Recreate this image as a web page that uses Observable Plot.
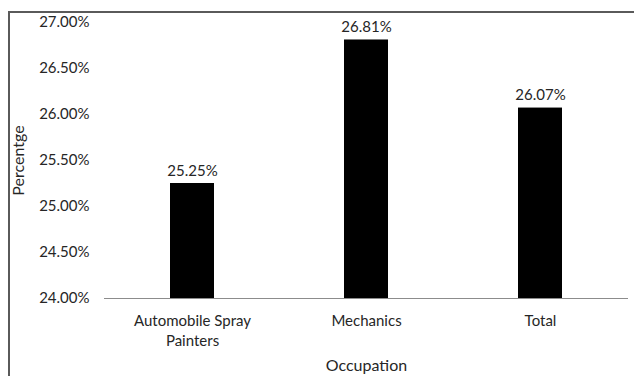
<!DOCTYPE html>
<html>
<head>
<meta charset="utf-8">
<script src="https://cdn.jsdelivr.net/npm/d3@7"></script>
<script src="https://cdn.jsdelivr.net/npm/@observablehq/plot@0.6"></script>
<style>
  html, body { margin: 0; padding: 0; background: #fff; }
  #wrap { position: relative; width: 634px; height: 376px; overflow: hidden; }
  #frame { position: absolute; left: 8px; top: 11px; right: -4px; bottom: -4px;
           border-left: 2px solid #5a5a5a; border-top: 2px solid #5a5a5a; pointer-events: none; }
</style>
</head>
<body>
<div id="wrap"><div id="frame"></div></div>
<script>
const categories = ["Automobile Spray Painters", "Mechanics", "Total"];
const tickLabels = ["Automobile Spray\nPainters", "Mechanics", "Total"];
const values = [25.25, 26.81, 26.07];
const yTicks = [24, 24.5, 25, 25.5, 26, 26.5, 27];

const data = categories.map((c, i) => ({ category: c, value: values[i] }));
const labelOf = new Map(categories.map((c, i) => [c, tickLabels[i]]));

const chart = Plot.plot({
  width: 634,
  height: 376,
  marginLeft: 104,
  marginRight: 6,
  marginTop: 22,
  marginBottom: 78,
  style: { fontFamily: "Lato, 'Open Sans', sans-serif", fontSize: "15px", color: "#262626", background: "transparent" },
  x: { domain: categories, paddingInner: 0.75, paddingOuter: 0.375, label: null },
  y: { domain: [24, 27], label: null },
  marks: [
    Plot.barY(data, { x: "category", y1: 24, y2: "value", fill: "#000" }),
    Plot.text(data, {
      x: "category", y: "value",
      text: d => d.value.toFixed(2) + "%",
      lineAnchor: "bottom", dy: -8,
      fontSize: 15, fill: "#262626"
    }),
    Plot.ruleY([24], { stroke: "#8c8c8c", strokeWidth: 1 }),
    Plot.axisY({
      ticks: yTicks, tickSize: 0, tickPadding: 15,
      tickFormat: d => d.toFixed(2) + "%",
      label: "Percentge", labelAnchor: "center", labelArrow: "none", labelOffset: 92,
      fontSize: 15
    }),
    Plot.axisX({
      tickSize: 0, tickPadding: 14,
      tickFormat: d => labelOf.get(d),
      lineHeight: 1.3,
      label: "Occupation", labelAnchor: "center", labelArrow: "none", labelOffset: 72,
      fontSize: 15
    })
  ]
});
chart.style.position = "absolute";
chart.style.left = "0px";
chart.style.top = "0px";
document.getElementById("wrap").appendChild(chart);
chart.querySelectorAll("[aria-label='x-axis label'] text, [aria-label='y-axis label'] text").forEach(t => t.setAttribute("font-size", "16"));
</script>
</body>
</html>
